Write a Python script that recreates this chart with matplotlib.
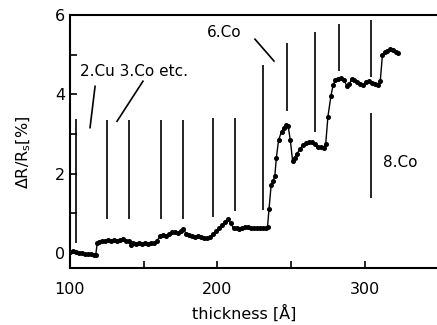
import matplotlib.pyplot as plt

# measured curve: delta R / R_s versus total thickness
thickness = [100, 102, 104, 106, 108, 110, 112, 114, 116, 117.5, 118.5, 120, 122, 124, 126, 128,
             130, 132, 134, 136, 138, 140, 141.5, 143, 145, 147, 149, 151, 153, 155, 157,
             159, 161, 163, 165, 167, 169, 171, 173, 175, 177, 179, 181, 183, 185, 187,
             189, 191, 193, 195, 197, 199, 201, 203, 205, 207, 209, 211, 213, 215, 217,
             219, 221, 223, 225, 227, 229, 231, 233, 234, 235, 236.5, 238, 239, 240,
             241.5, 243.5, 245, 246.5, 248, 249.5, 251, 252.5, 254, 256, 258, 260, 262,
             264, 266, 268, 270, 272, 273.5, 275, 277, 278.5, 280, 282, 284, 286, 288,
             289.5, 291, 293, 295, 297, 299, 301, 303, 305, 307, 309, 310.5, 312, 313.5,
             315, 317, 319, 321, 322.5]
dR = [0.03, 0.06, 0.02, 0.0, 0.01, -0.02, -0.03, -0.02, -0.05, -0.04, 0.25, 0.28, 0.3, 0.29, 0.32, 0.31,
      0.33, 0.3, 0.32, 0.34, 0.3, 0.31, 0.2, 0.24, 0.23, 0.25, 0.22, 0.24, 0.23, 0.25, 0.26,
      0.3, 0.42, 0.45, 0.43, 0.48, 0.52, 0.53, 0.5, 0.56, 0.6, 0.47, 0.44, 0.42, 0.4, 0.43,
      0.4, 0.38, 0.37, 0.4, 0.48, 0.55, 0.62, 0.7, 0.78, 0.86, 0.75, 0.62, 0.63, 0.6, 0.62,
      0.65, 0.66, 0.63, 0.62, 0.64, 0.62, 0.63, 0.64, 0.65, 1.1, 1.72, 1.82, 1.95, 2.4,
      2.84, 3.06, 3.15, 3.22, 3.2, 2.84, 2.33, 2.4, 2.5, 2.62, 2.72, 2.78, 2.8,
      2.81, 2.75, 2.68, 2.66, 2.65, 2.75, 3.44, 3.95, 4.23, 4.35, 4.38, 4.4, 4.35, 4.2,
      4.25, 4.38, 4.35, 4.3, 4.25, 4.23, 4.3, 4.33, 4.28, 4.25, 4.23, 4.33, 5.0, 5.06,
      5.1, 5.14, 5.12, 5.06, 5.04]

# vertical marks for each deposited layer
layer_x = [104, 125, 140, 162, 177, 197, 212, 231, 247, 266, 282.5, 304, 304]
layer_lo = [0.25, 0.85, 0.85, 0.85, 0.85, 0.9, 1.06, 1.09, 3.57, 3.06, 4.6, 4.43, 1.39]
layer_hi = [3.37, 3.35, 3.35, 3.35, 3.35, 3.4, 3.4, 4.73, 5.3, 5.57, 5.77, 5.87, 3.54]

plt.rcParams['font.family'] = 'DejaVu Sans'
fig = plt.figure(figsize=(4.37, 3.25), dpi=100)
ax = fig.add_axes([70 / 437, 57 / 325, 367 / 437, 253 / 325])

ax.vlines(layer_x, layer_lo, layer_hi, color='black', linewidth=1.2)
ax.plot(thickness, dR, color='black', linewidth=1.0, marker='o', markersize=2.6)

# annotations with leader lines
ax.text(106.8, 4.58, '2.Cu 3.Co etc.', fontsize=11, va='center', ha='left')
ax.plot([117, 113.6], [4.2, 3.16], color='black', linewidth=1.2)
ax.plot([149.5, 131.9], [4.33, 3.32], color='black', linewidth=1.2)
ax.text(193, 5.57, '6.Co', fontsize=11, va='center', ha='left')
ax.plot([225.5, 238.4], [5.39, 4.84], color='black', linewidth=1.2)
ax.text(312.3, 2.28, '8.Co', fontsize=11, va='center', ha='left')

ax.set_xlim(100, 349)
ax.set_ylim(-0.38, 6)
ax.set_xticks([100, 200, 300])
ax.set_xticks([150, 250], minor=True)
ax.set_yticks([0, 2, 4, 6])
ax.set_yticks([1, 3, 5], minor=True)
ax.tick_params(which='both', direction='in', length=5, width=1.2, labelsize=11.5)
ax.tick_params(axis='x', pad=10)
ax.spines['right'].set_visible(False)
for s in ['left', 'bottom', 'top']:
    ax.spines[s].set_linewidth(1.5)

ax.set_xlabel('thickness [Å]', fontsize=11.5)
ax.set_ylabel(r'$\Delta$R/R$_{\mathrm{s}}$[%]', fontsize=11.5)
ax.xaxis.set_label_coords(0.474, -0.146)
ax.yaxis.set_label_coords(-0.10, 0.458)

plt.savefig('out.png', dpi=100)
